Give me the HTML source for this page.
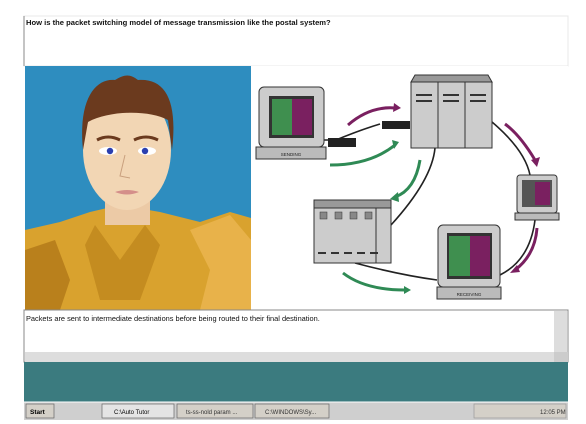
<!DOCTYPE html>
<html><head><style>
html,body{margin:0;padding:0;background:#fff;width:586px;height:424px;overflow:hidden;font-family:"Liberation Sans",Arial,sans-serif}
</style></head><body>
<svg width="586" height="424" viewBox="0 0 586 424" xmlns="http://www.w3.org/2000/svg" font-family="Liberation Sans, Arial, sans-serif">
<rect width="586" height="424" fill="#fff"/>
<!-- top question box -->
<rect x="24" y="16" width="544" height="50" fill="#fff" stroke="#e8e8e8"/>
<line x1="24" y1="16" x2="24" y2="66" stroke="#888"/>
<text x="26" y="25" font-size="7.6" font-weight="bold" fill="#111">How is the packet switching model of message transmission like the postal system?</text>
<!-- avatar -->
<rect x="25" y="66" width="226" height="244" fill="#2e8dbf"/>
<path d="M25 230 L60 222 L90 212 L120 205 L160 212 L200 222 L230 212 L251 218 L251 310 L25 310Z" fill="#d9a22e"/>
<path d="M25 250 L55 240 L70 280 L60 310 L25 310Z" fill="#b9801c"/>
<path d="M95 225 L120 260 L145 225 L160 245 L140 300 L100 300 L85 245Z" fill="#c48c20"/>
<path d="M190 230 L230 215 L251 240 L251 310 L200 310 L210 270Z" fill="#e8b24a"/>
<rect x="105" y="190" width="45" height="35" fill="#eccaa6"/>
<ellipse cx="127" cy="150" rx="44" ry="60" fill="#f2d6b4"/>
<path d="M83 150 C78 100 95 78 115 80 C125 74 130 74 138 80 C165 78 178 100 172 150 L168 120 C150 110 110 110 88 122Z" fill="#6b3a1e"/>
<path d="M97 140 Q108 134 120 140" stroke="#6b3a1e" stroke-width="3" fill="none"/>
<path d="M134 140 Q146 134 158 140" stroke="#6b3a1e" stroke-width="3" fill="none"/>
<ellipse cx="108" cy="151" rx="9" ry="4" fill="#fff"/><circle cx="110" cy="151" r="3.2" fill="#2a3fb0"/>
<ellipse cx="147" cy="151" rx="9" ry="4" fill="#fff"/><circle cx="145" cy="151" r="3.2" fill="#2a3fb0"/>
<path d="M125 155 L120 176 L130 178" stroke="#c9a07e" fill="none"/>
<path d="M115 192 Q127 188 139 192 Q127 197 115 192Z" fill="#d48f8a"/>
<!-- diagram -->
<rect x="251" y="66" width="317" height="244" fill="#fff"/>
<g stroke="#222" stroke-width="1.6" fill="none">
<path d="M324 140 L336 140 Q360 130 380 124"/>
<path d="M492 122 Q525 150 530 175"/>
<path d="M535 220 Q530 260 500 275"/>
<path d="M435 148 Q432 180 391 225"/>
<path d="M355 263 Q400 275 437 280"/>
</g>
<!-- sending monitor -->
<rect x="259" y="87" width="65" height="60" rx="5" fill="#ccc" stroke="#333"/>
<rect x="269" y="96" width="45" height="42" fill="#333"/>
<rect x="272" y="99" width="20" height="36" fill="#3f8f4f"/><rect x="292" y="99" width="20" height="36" fill="#7a2060"/>
<rect x="256" y="147" width="70" height="12" fill="#bbb" stroke="#333"/>
<text x="291" y="156" font-size="4.5" text-anchor="middle" fill="#222">SENDING</text>
<rect x="328" y="138" width="28" height="9" fill="#222"/>
<rect x="382" y="121" width="28" height="8" fill="#222"/>
<!-- server -->
<path d="M415 75 L488 75 L492 82 L411 82Z" fill="#999" stroke="#333"/>
<rect x="411" y="82" width="81" height="66" fill="#ccc" stroke="#333"/>
<line x1="438" y1="82" x2="438" y2="148" stroke="#333"/><line x1="465" y1="82" x2="465" y2="148" stroke="#333"/>
<g stroke="#333" stroke-width="2"><line x1="416" y1="95" x2="432" y2="95"/><line x1="416" y1="101" x2="432" y2="101"/><line x1="443" y1="95" x2="459" y2="95"/><line x1="443" y1="101" x2="459" y2="101"/><line x1="470" y1="95" x2="486" y2="95"/><line x1="470" y1="101" x2="486" y2="101"/></g>
<!-- small monitor -->
<rect x="517" y="175" width="40" height="38" rx="3" fill="#ccc" stroke="#333"/>
<rect x="522" y="180" width="30" height="27" fill="#555"/><rect x="535" y="182" width="15" height="23" fill="#7a2060"/>
<rect x="515" y="213" width="44" height="7" fill="#bbb" stroke="#333"/>
<!-- mainframe -->
<rect x="314" y="200" width="77" height="8" fill="#999" stroke="#333"/>
<rect x="314" y="208" width="77" height="55" fill="#ccc" stroke="#333"/>
<line x1="376" y1="208" x2="376" y2="263" stroke="#333"/>
<g fill="#888" stroke="#333" stroke-width=".5"><rect x="320" y="212" width="7" height="7"/><rect x="335" y="212" width="7" height="7"/><rect x="350" y="212" width="7" height="7"/><rect x="365" y="212" width="7" height="7"/></g>
<g stroke="#333" stroke-width="2"><line x1="318" y1="253" x2="326" y2="253"/><line x1="331" y1="253" x2="339" y2="253"/><line x1="344" y1="253" x2="352" y2="253"/><line x1="357" y1="253" x2="365" y2="253"/><line x1="370" y1="253" x2="378" y2="253"/></g>
<!-- receiving monitor -->
<rect x="438" y="225" width="62" height="62" rx="5" fill="#ccc" stroke="#333"/>
<rect x="447" y="233" width="45" height="46" fill="#333"/>
<rect x="449" y="236" width="21" height="40" fill="#3f8f4f"/><rect x="470" y="236" width="20" height="40" fill="#7a2060"/>
<rect x="437" y="287" width="64" height="12" fill="#bbb" stroke="#333"/>
<text x="469" y="296" font-size="4.5" text-anchor="middle" fill="#222">RECEIVING</text>
<!-- arrows -->
<g fill="none" stroke-width="3">
<path d="M348 125 Q370 106 395 108" stroke="#7a2060"/>
<path d="M505 124 Q520 135 535 160" stroke="#7a2060"/>
<path d="M537 228 Q535 255 515 270" stroke="#7a2060"/>
<path d="M330 165 Q370 165 395 145" stroke="#2f8a55"/>
<path d="M420 160 Q415 190 395 197" stroke="#2f8a55"/>
<path d="M343 273 Q365 290 405 290" stroke="#2f8a55"/>
</g>
<g>
<path d="M394 103 L401 108 L393 112Z" fill="#7a2060"/>
<path d="M531 160 L537 167 L540 157Z" fill="#7a2060"/>
<path d="M517 265 L510 273 L520 272Z" fill="#2f8a55" style="fill:#7a2060"/>
<path d="M392 140 L399 142 L394 149Z" fill="#2f8a55"/>
<path d="M398 192 L390 199 L399 202Z" fill="#2f8a55"/>
<path d="M404 286 L411 290 L404 294Z" fill="#2f8a55"/>
</g>
<!-- message box -->
<rect x="24" y="310" width="544" height="52" fill="#fff" stroke="#888"/>
<text x="26" y="321" font-size="7.4" fill="#111">Packets are sent to intermediate destinations before being routed to their final destination.</text>
<rect x="554" y="311" width="13" height="41" fill="#ddd"/>
<rect x="25" y="352" width="529" height="10" fill="#ddd"/>
<rect x="554" y="352" width="14" height="10" fill="#ccc"/>
<!-- teal -->
<rect x="24" y="362" width="544" height="40" fill="#3b7b7f"/>
<!-- taskbar -->
<rect x="24" y="402" width="544" height="18" fill="#cfcfcf"/>
<line x1="24" y1="402" x2="568" y2="402" stroke="#fff"/>
<rect x="26" y="404" width="28" height="14" fill="#d4d0c8" stroke="#666" stroke-width=".7"/>
<text x="30" y="414" font-size="6.5" font-weight="bold">Start</text>
<rect x="102" y="404" width="72" height="14" fill="#e4e4e4" stroke="#666" stroke-width=".7"/>
<text x="114" y="414" font-size="6">C:\Auto Tutor</text>
<rect x="177" y="404" width="76" height="14" fill="#d4d0c8" stroke="#666" stroke-width=".7"/>
<text x="186" y="414" font-size="6" fill="#333">ts-ss-nold param ...</text>
<rect x="255" y="404" width="74" height="14" fill="#d4d0c8" stroke="#666" stroke-width=".7"/>
<text x="265" y="414" font-size="6" fill="#333">C:\WINDOWS\Sy...</text>
<rect x="474" y="404" width="92" height="14" fill="#d4d0c8" stroke="#999" stroke-width=".7"/>
<text x="540" y="414" font-size="6" fill="#333">12:05 PM</text>
</svg>
</body></html>
